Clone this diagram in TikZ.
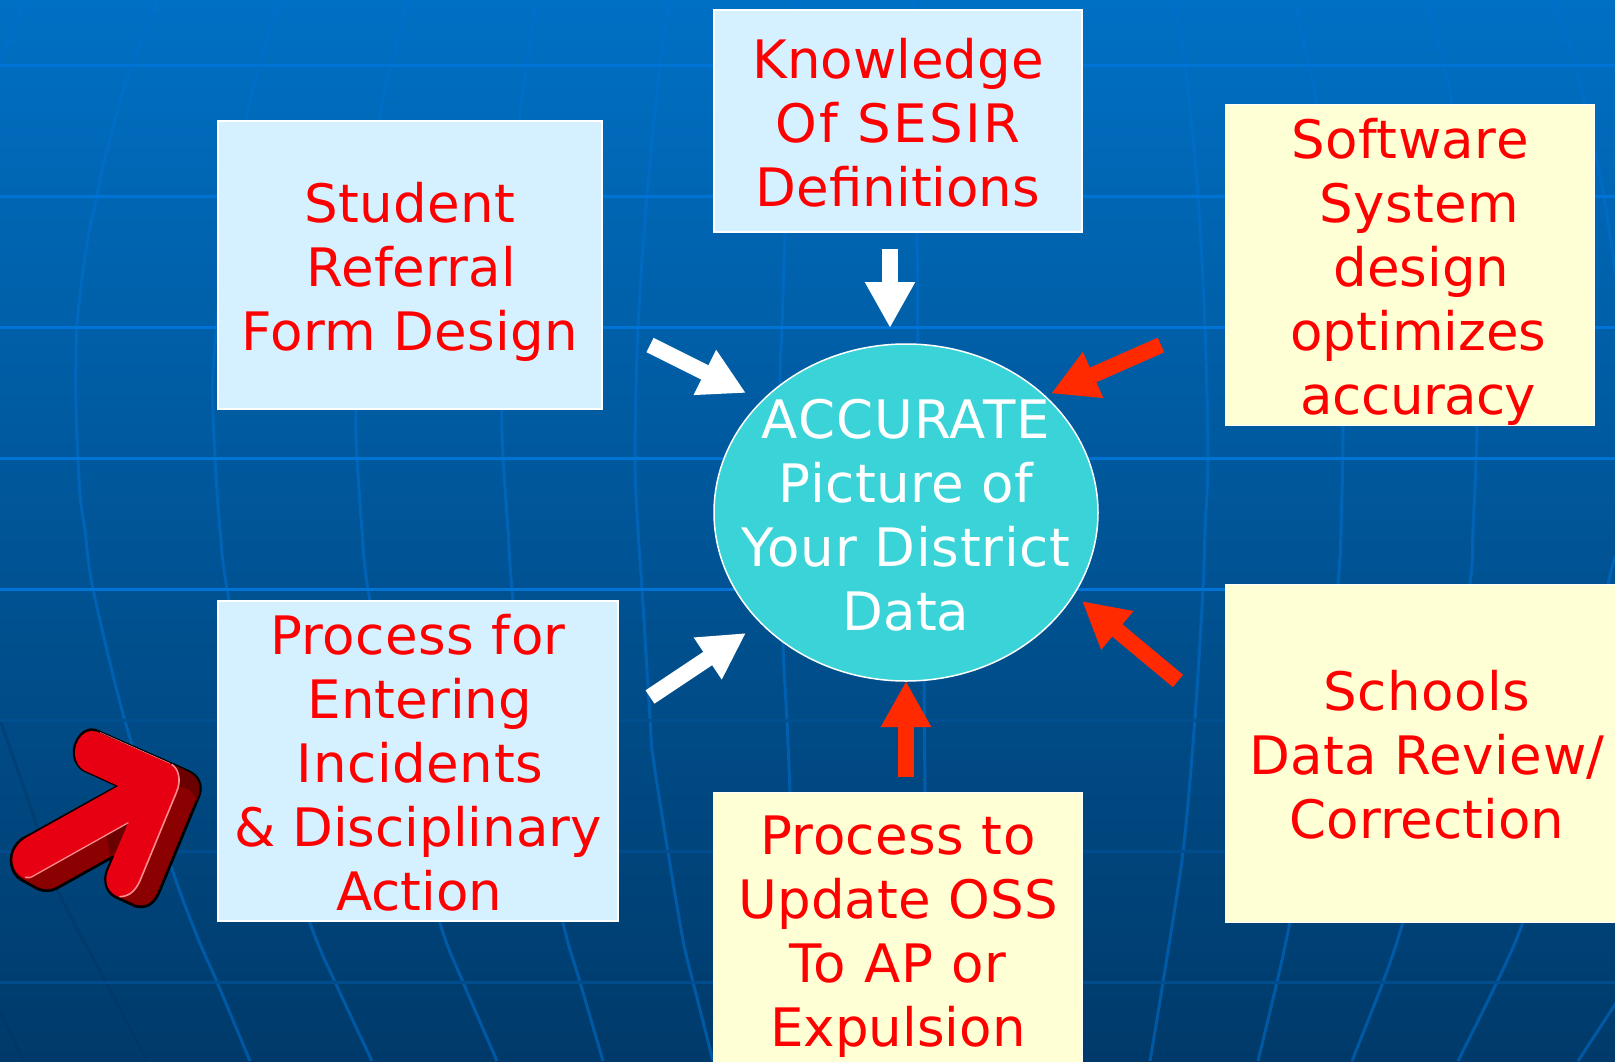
\documentclass[tikz,border=0pt]{standalone}
\usepackage{fontspec}
\setmainfont{DejaVu Sans}
\usetikzlibrary{arrows.meta,shapes.geometric}
\definecolor{bgtop}{HTML}{0070C4}
\definecolor{bgbot}{HTML}{003A6A}
\definecolor{gridb}{HTML}{0073D6}
\definecolor{gridm}{HTML}{00508F}
\definecolor{gridd}{HTML}{004C8C}
\definecolor{merid}{HTML}{0070D0}
\definecolor{meridd}{HTML}{00325F}
\definecolor{boxblue}{HTML}{D5F1FF}
\definecolor{boxcream}{HTML}{FFFFD5}
\definecolor{hub}{HTML}{3AD4D8}
\definecolor{redarrow}{HTML}{FF2A00}
\definecolor{bigface}{HTML}{E60012}
\definecolor{bigside}{HTML}{8B0000}
\definecolor{bigdark}{HTML}{6A0000}
\definecolor{bighigh}{HTML}{FF8C8C}
\newcommand{\btext}[2]{\raisebox{#1}[0pt][0pt]{\makebox[0pt]{\begin{tabular}[b]{@{}c@{}}#2\end{tabular}}}}
\newcommand{\ls}[2]{{\addfontfeature{LetterSpace=#1}#2}}
\tikzset{
  bluebox/.style={rectangle,draw=white,line width=2pt,fill=boxblue,text=red,inner sep=0pt,outer sep=0pt,font=\fontsize{53}{64}\selectfont},
  creambox/.style={rectangle,draw=white,line width=1pt,fill=boxcream,text=red,inner sep=0pt,outer sep=0pt,font=\fontsize{53}{64}\selectfont},
  hubnode/.style={ellipse,draw=white,line width=1.5pt,fill=hub,text=white,inner sep=0pt,outer sep=0pt,minimum width=384pt,minimum height=337pt,font=\fontsize{53}{64}\selectfont},
  whitearrow/.style={draw=white,line width=16pt,-{Triangle[width=47pt,length=46pt]}},
  redconn/.style={draw=redarrow,line width=16pt,-{Triangle[width=47pt,length=46pt]}},
  gridline/.style={line width=3pt},
  meridian/.style={draw=merid,line width=3pt,opacity=0.55},
  darkmeridian/.style={draw=meridd,line width=3pt,opacity=0.35}
}
\begin{document}
\begin{tikzpicture}[x=1pt,y=-1pt]
\useasboundingbox (0,0) rectangle (1615,1061);
\clip (0,0) rectangle (1615,1061);
% background
\shade[top color=bgtop,bottom color=bgbot] (0,0) rectangle (1615,1061);
% meridians
\draw[meridian] plot[smooth] coordinates {(25,0) (0,64)};
\draw[meridian] plot[smooth] coordinates {(157,0) (133,64) (123,91) (103,166) (97,196) (87,243) (77,325) (76,406) (80,494) (85,530) (93,589) (125,721) (172,869) (197,936) (217,982) (250,1061)};
\draw[meridian] plot[smooth] coordinates {(278,0) (260,64) (247,115) (225,250) (213,372) (215,457) (220,530) (227,589) (260,770) (310,923) (335,982) (372,1061)};
\draw[meridian] plot[smooth] coordinates {(408,0) (392,64) (380,118) (360,300) (356,410) (357,457) (362,530) (368,589) (400,770) (440,923) (463,982) (497,1061)};
\draw[meridian] plot[smooth] coordinates {(537,0) (520,115) (505,300) (502,410) (503,457) (508,530) (512,589) (530,770) (563,923) (580,982) (603,1061)};
\draw[meridian] plot[smooth] coordinates {(670,0) (660,64) (647,196) (638,327) (635,458) (638,530) (642,589) (650,718) (653,757) (668,852) (683,940) (693,982) (713,1061)};
\draw[meridian] plot[smooth] coordinates {(798,0) (790,120) (785,234) (782,327) (780,382) (781,520) (783,645) (787,720) (790,792)};
\draw[meridian] plot[smooth] coordinates {(913,0) (917,234) (918,344) (922,520) (924,682) (925,792)};
\draw[meridian] plot[smooth] coordinates {(1173,0) (1185,64) (1198,196) (1205,327) (1208,458) (1205,530) (1203,589) (1195,718) (1183,852) (1163,982) (1150,1061)};
\draw[meridian] plot[smooth] coordinates {(1295,0) (1308,64) (1317,105) (1340,300) (1343,426) (1341,530) (1338,584) (1320,770) (1290,922) (1277,982) (1258,1061)};
\draw[meridian] plot[smooth] coordinates {(1428,0) (1443,64) (1452,105) (1475,300) (1477,426) (1473,530) (1470,584) (1445,770) (1403,922) (1383,982) (1352,1061)};
\draw[meridian] plot[smooth] coordinates {(1553,0) (1575,64) (1585,105) (1595,152) (1605,203) (1618,290)};
\draw[meridian] plot[smooth] coordinates {(1618,554) (1608,584) (1570,780) (1523,922) (1497,982) (1458,1061)};
\draw[meridian] plot[smooth] coordinates {(1618,1000) (1578,1061)};
\draw[darkmeridian] plot[smooth] coordinates {(0,720) (33,814) (57,889) (107,984) (147,1061)};
\draw[darkmeridian] plot[smooth] coordinates {(0,1011) (23,1061)};
% latitude lines
\foreach \yy in {65,196,327,458,589} \draw[gridline,draw=gridb] (0,\yy) -- (1615,\yy);
\draw[gridline,draw=gridm] (0,720) -- (1615,720);
\foreach \yy in {851,982} \draw[gridline,draw=gridd] (0,\yy) -- (1615,\yy);
% boxes
\node[bluebox,minimum width=384pt,minimum height=288pt] (student) at (410,265)
  {\btext{-85pt}{\ls{0.8}{Student}\\\ls{0.5}{Referral}\hspace*{-3pt}\\\ls{0.7}{Form Design}\hspace{6pt}}};
\node[bluebox,minimum width=368pt,minimum height=222pt] (knowledge) at (898,121)
  {\btext{-85pt}{Knowledge\\\ls{4.6}{Of SESIR}\\Definitions}};
\node[creambox,minimum width=369pt,minimum height=321pt] (software) at (1410,265)
  {\btext{-149pt}{\ls{1}{Software}\\\hspace*{19pt}\ls{0.6}{System}\\\hspace*{23pt}design\\\hspace*{17pt}optimizes\\\hspace*{17pt}\ls{-1}{accuracy}}};
\node[bluebox,minimum width=400pt,minimum height=320pt] (entering) at (418,761)
  {\btext{-149pt}{\ls{1}{Process for}\\\hspace*{4pt}Entering\\\hspace*{4pt}\ls{1.2}{Incidents}\\\& Disciplinary\\\hspace*{2pt}Action}};
\node[creambox,minimum width=369pt,minimum height=308pt] (update) at (898,946)
  {\btext{-100pt}{\ls{1}{Process to}\\\ls{0.5}{Update OSS}\\\ls{2}{To AP or}\\Expulsion}};
\node[creambox,minimum width=404pt,minimum height=338pt] (schools) at (1427,753)
  {\btext{-85pt}{\ls{0.9}{Schools}\\\ls{1}{Data Review/}\\Correction}};
\node[hubnode] (hub) at (906,512.5)
  {\btext{-117.5pt}{\ls{2}{ACCURATE}\\\ls{1}{Picture of}\\\ls{1.5}{Your District}\\Data}};
% connector ends
\coordinate (t1) at (890,249); \coordinate (h1) at (890,328);
\coordinate (t2) at (650,345); \coordinate (h2) at (746,393);
\coordinate (t3) at (650,697); \coordinate (h3) at (746,633);
\coordinate (t4) at (1161,345); \coordinate (h4) at (1051,393.5);
\coordinate (t5) at (1178,681); \coordinate (h5) at (1082,601);
\coordinate (t6) at (906,777); \coordinate (h6) at (906,681);
\draw[whitearrow] (t1) -- (h1);
\draw[whitearrow] (t2) -- (h2);
\draw[whitearrow] (t3) -- (h3);
\draw[redconn] (t4) -- (h4);
\draw[redconn] (t5) -- (h5);
\draw[redconn] (t6) -- (h6);
% 3D pointer arrow
\begin{scope}[shift={(0,700)},x=0.33333pt,y=-0.33333pt]
\filldraw[fill=bigside,draw=black,line width=2.7pt,line join=round]
  (285,90) -- (568,215) .. controls (595,228) and (608,255) .. (598,285)
  -- (480,570) .. controls (465,610) and (440,628) .. (405,618)
  -- (345,590) .. controls (318,575) and (310,540) .. (322,510)
  -- (340,470) -- (170,565) .. controls (150,575) and (130,575) .. (110,565)
  -- (65,540) .. controls (30,520) and (25,470) .. (45,440)
  .. controls (55,425) and (65,415) .. (80,410)
  -- (355,258) -- (250,210) .. controls (220,190) and (215,150) .. (232,120)
  .. controls (245,95) and (265,85) .. (285,90) -- cycle;
\fill[bigdark] (525,195) -- (568,217) .. controls (593,230) and (604,255) .. (596,285)
  -- (588,305) .. controls (585,280) and (565,262) .. (538,262)
  .. controls (542,235) and (535,205) .. (525,195) -- cycle;
\fill[bigdark] (385,368) -- (318,406) .. controls (325,430) and (328,450) .. (330,466)
  -- (346,458) -- cycle;
\fill[bigface] (290,95) -- (510,190) .. controls (535,205) and (548,240) .. (530,280)
  -- (425,530) .. controls (410,570) and (385,590) .. (355,590)
  -- (345,585) .. controls (320,570) and (312,540) .. (325,510)
  -- (385,368) -- (85,538) -- (65,530) .. controls (35,510) and (28,470) .. (50,440)
  .. controls (58,428) and (68,420) .. (80,412)
  -- (355,258) -- (250,210) .. controls (222,190) and (218,150) .. (235,120)
  .. controls (248,98) and (270,88) .. (290,95) -- cycle;
\draw[bighigh,line width=1.6pt] (515,193) .. controls (535,205) and (545,240) .. (530,275)
  -- (425,530) .. controls (410,570) and (390,590) .. (358,590);
\draw[bighigh,line width=1.3pt] (385,368) -- (105,525) .. controls (95,532) and (85,535) .. (75,532);
\draw[bighigh,line width=0.5pt] (300,97) -- (510,190);
\end{scope}
\end{tikzpicture}
\end{document}
